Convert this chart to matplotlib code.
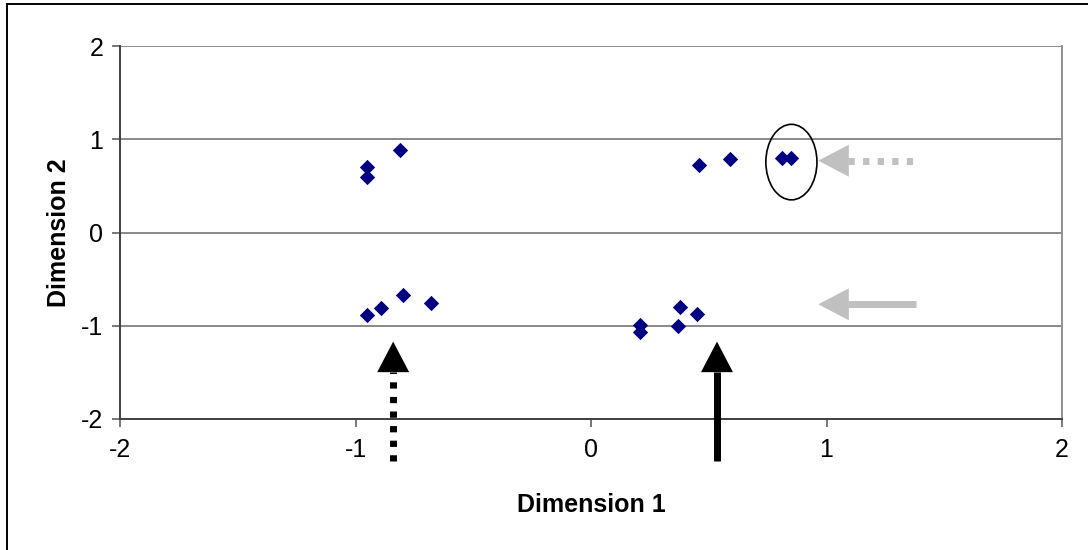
import numpy as np
import matplotlib.pyplot as plt
from matplotlib.patches import Ellipse, Rectangle

# MDS configuration
dim1 = [-0.95, -0.95, -0.81,
        -0.95, -0.89, -0.80, -0.68,
        0.21, 0.21, 0.37, 0.38, 0.45,
        0.46, 0.59,
        0.81, 0.85]
dim2 = [0.70, 0.59, 0.88,
        -0.89, -0.81, -0.67, -0.76,
        -0.99, -1.07, -1.00, -0.80, -0.87,
        0.72, 0.79,
        0.80, 0.80]

ticks = [-2, -1, 0, 1, 2]

# annotation arrows: (x, tip_y, tail_y) vertical, (y, tip_x, tail_x) horizontal
black_dotted = (-0.84, -1.17, -2.45)
black_solid = (0.535, -1.17, -2.45)
grey_dotted = (0.77, 0.965, 1.38)
grey_solid = (-0.77, 0.965, 1.38)

circle_center = (0.851, 0.755)
circle_w, circle_h = 0.217, 0.81

plt.rcParams['font.family'] = ['Liberation Sans', 'DejaVu Sans']
plt.rcParams['axes.unicode_minus'] = False

fig = plt.figure(figsize=(10.88, 5.5), dpi=100)
ax = fig.add_axes([120 / 1088, 1 - 419 / 550, 942 / 1088, 373 / 550])

ax.scatter(dim1, dim2, marker='D', s=7.8 ** 2, color='#000080', linewidths=0, zorder=3)

ax.set_xlim(-2, 2)
ax.set_ylim(-2, 2)
ax.set_xticks(ticks)
ax.set_yticks(ticks)
ax.tick_params(labelsize=18, length=6, width=1.2, color='#606060', pad=6)
ax.tick_params(axis='x', pad=8)
ax.yaxis.grid(True, color='#808080', lw=1.3)
ax.set_axisbelow(True)
ax.spines['top'].set_visible(False)
ax.spines['left'].set_color('#404040')
ax.spines['bottom'].set_color('#404040')
ax.spines['left'].set_linewidth(1.4)
ax.spines['bottom'].set_linewidth(1.4)
ax.spines['right'].set_color('#909090')
ax.spines['right'].set_linewidth(1.4)

ax.set_xlabel('Dimension 1', fontsize=18, fontweight='bold', labelpad=22)
ax.set_ylabel('Dimension 2', fontsize=18, fontweight='bold', labelpad=7)

ax.add_patch(Ellipse(circle_center, circle_w, circle_h, fill=False, ec='black', lw=1.2, zorder=4))

head_px = 30
y_per_px = 4 / 373
x_per_px = 4 / 942
dots = (0, (0.9, 1.2))


def up_arrow(spec, style):
    x, tip, tail = spec
    base = tip - head_px * y_per_px
    ax.plot([x, x], [tail, base], color='black', lw=5, ls=style,
            solid_capstyle='butt', dash_capstyle='butt', clip_on=False, zorder=5)
    ax.annotate('', xy=(x, tip), xytext=(x, base), annotation_clip=False,
                arrowprops=dict(arrowstyle='-|>,head_length=22,head_width=11.5',
                                mutation_scale=1, lw=0, color='black',
                                shrinkA=0, shrinkB=0), zorder=5)


def left_arrow(spec, style):
    y, tip, tail = spec
    base = tip + head_px * x_per_px
    ax.plot([base, tail], [y, y], color='#c0c0c0', lw=5, ls=style,
            solid_capstyle='butt', dash_capstyle='butt', clip_on=False, zorder=5)
    ax.annotate('', xy=(tip, y), xytext=(base, y), annotation_clip=False,
                arrowprops=dict(arrowstyle='-|>,head_length=22,head_width=11.5',
                                mutation_scale=1, lw=0, color='#c0c0c0',
                                shrinkA=0, shrinkB=0), zorder=5)


up_arrow(black_dotted, dots)
up_arrow(black_solid, '-')
left_arrow(grey_dotted, dots)
left_arrow(grey_solid, '-')

# outer chart frame (only left and top edges fall inside the picture)
fig.add_artist(Rectangle((7 / 1088, -0.1), 1.2, 1.1 - 4 / 550, transform=fig.transFigure,
                         fill=False, ec='black', lw=1.4))

fig.savefig('out.png', dpi=100)
